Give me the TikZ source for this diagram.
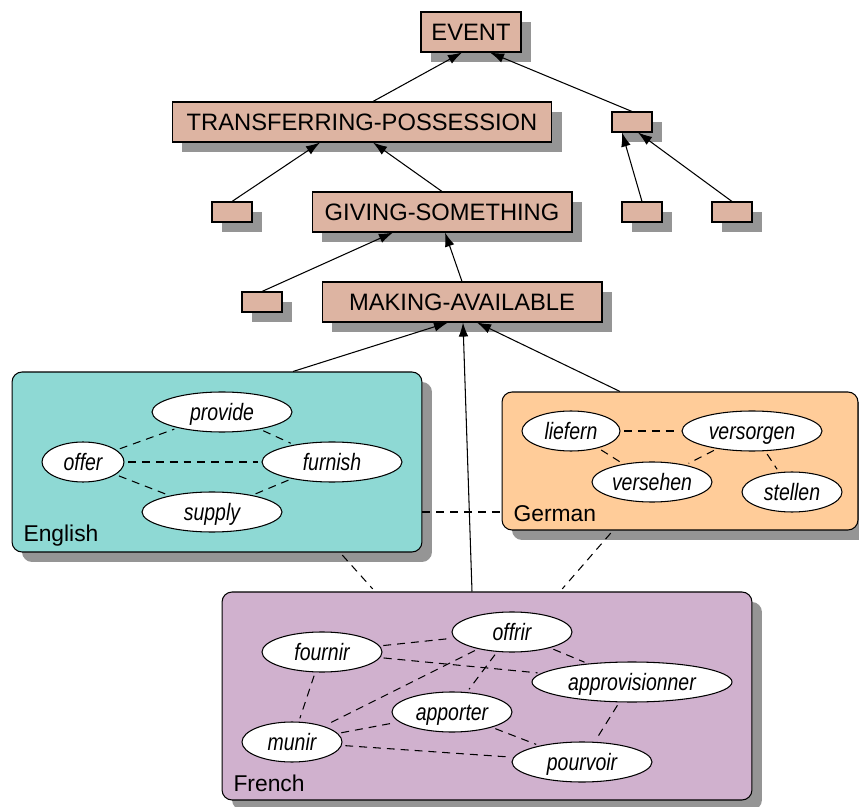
\documentclass[tikz,border=0pt]{standalone}
\usepackage{fontspec}
\setmainfont{Liberation Sans}
\newfontfamily\narrowsans[FakeStretch=0.82]{Liberation Sans}
\usetikzlibrary{arrows.meta,shapes.geometric,shadows}
\definecolor{conceptfill}{HTML}{DDB4A2}
\definecolor{englishfill}{HTML}{8ED9D4}
\definecolor{germanfill}{HTML}{FFCC99}
\definecolor{frenchfill}{HTML}{D0B1CE}
\definecolor{shadowgray}{HTML}{959595}

\begin{document}
\begin{tikzpicture}[x=0.02cm,y=-0.02cm,line width=0.6pt,
		dropshade/.style={drop shadow={shadow xshift=0.2cm,shadow yshift=-0.2cm,fill=shadowgray,opacity=1}},
		concept/.style={draw,fill=conceptfill,dropshade,inner sep=0,minimum height=0.8cm,font=\fontsize{13.5}{16}\selectfont},
		stub/.style={draw,fill=conceptfill,dropshade,inner sep=0,minimum width=0.8cm,minimum height=0.4cm},
		panel/.style={draw,rounded corners=0.2cm,dropshade,inner sep=0},
		lex/.style={draw,fill=white,ellipse,inner sep=0,minimum height=0.8cm,text height=11pt,text depth=1.4pt,font=\narrowsans\itshape\fontsize{13.5}{16}\selectfont},
		lang/.style={anchor=base west,inner sep=0,font=\fontsize{13}{15}\selectfont},
		isa/.style={-{Latex[length=8pt,width=5.5pt]}},
		link/.style={dash pattern=on 4.5pt off 3.4pt},
		syn/.style={link,shorten >=2pt,shorten <=2pt}]
	\useasboundingbox (0,0) rectangle (859,807);
	% concept hierarchy
	\node[concept,minimum width=2cm] (event) at (471,32) {EVENT};
	\node[concept,minimum width=7.6cm] (transfer) at (362,122) {TRANSFERRING-POSSESSION};
	\node[stub] (stubA) at (632,122) {};
	\node[stub] (stubB) at (232,212) {};
	\node[concept,minimum width=5.2cm] (giving) at (442,212) {GIVING-SOMETHING};
	\node[stub] (stubC) at (642,212) {};
	\node[stub] (stubD) at (732,212) {};
	\node[stub] (stubE) at (262,302) {};
	\node[concept,minimum width=5.6cm] (making) at (462,302) {MAKING-AVAILABLE};
	% language panels
	\node[panel,fill=englishfill,minimum width=8.2cm,minimum height=3.6cm] (eng) at (217,462) {};
	\node[panel,fill=germanfill,minimum width=7.12cm,minimum height=2.76cm] (ger) at (680,461) {};
	\node[panel,fill=frenchfill,minimum width=10.6cm,minimum height=4.16cm] (fre) at (487,696) {};
	\node[lang] (englab) at (23,541) {English};
	\node[lang] (gerlab) at (513,521) {German};
	\node[lang] (frelab) at (233,791) {French};
	% English
	\node[lex,minimum width=2.8cm] (provide) at (222,412) {provide};
	\node[lex,minimum width=1.64cm] (offer) at (83,462) {offer};
	\node[lex,minimum width=2.8cm] (furnish) at (332,462) {furnish};
	\node[lex,minimum width=2.8cm] (supply) at (212,512) {supply};
	% German
	\node[lex,minimum width=1.96cm] (liefern) at (571,431) {liefern};
	\node[lex,minimum width=2.8cm] (versorgen) at (752,431) {versorgen};
	\node[lex,minimum width=2.4cm] (versehen) at (652,482) {versehen};
	\node[lex,minimum width=2cm] (stellen) at (792,492) {stellen};
	% French
	\node[lex,minimum width=2.4cm] (offrir) at (512,632) {offrir};
	\node[lex,minimum width=2.4cm] (fournir) at (322,652) {fournir};
	\node[lex,minimum width=4cm] (approv) at (632,682) {approvisionner};
	\node[lex,minimum width=2.4cm] (apporter) at (452,712) {apporter};
	\node[lex,minimum width=2cm] (munir) at (292,742) {munir};
	\node[lex,minimum width=2.8cm] (pourvoir) at (582,762) {pourvoir};

	\draw[isa] (transfer.north -| 373,0) -- (event.south -| 462,0);
	\draw[isa] (stubA.north) -- (event.south -| 490,0);
	\draw[isa] (stubB.north) -- (transfer.south -| 320,0);
	\draw[isa] (giving.north) -- (transfer.south -| 373,0);
	\draw[isa] (stubE.north) -- (giving.south -| 393,0);
	\draw[isa] (making.north) -- (giving.south -| 445,0);
	\draw[isa] (stubC.north) -- (stubA.south -| 622,0);
	\draw[isa] (stubD.north) -- (stubA.south -| 638,0);
	\draw[isa] (eng.north -| 293,0) -- (making.south -| 448,0);
	\draw[isa] (fre.north -| 472,0) -- (making.south -| 463,0);
	\draw[isa] (ger.north -| 620,0) -- (making.south -| 477,0);

	\draw[link] (eng.east |- 0,512) -- (ger.west |- 0,512);
	\draw[syn] (eng.south -| 340,0) -- (fre.north -| 375,0);
	\draw[syn] (ger.south -| 613,0) -- (fre.north -| 560,0);

	\draw[syn] (offer) -- (provide);
	\draw[syn] (offer) -- (furnish);
	\draw[syn] (offer) -- (supply);
	\draw[syn] (provide) -- (furnish);
	\draw[syn] (supply) -- (furnish);
	\draw[syn] (liefern) -- (versorgen);
	\draw[syn] (liefern) -- (versehen);
	\draw[syn] (versorgen) -- (versehen);
	\draw[syn] (versorgen) -- (stellen);
	\draw[syn] (fournir) -- (offrir);
	\draw[syn] (fournir) -- (approv);
	\draw[syn] (fournir) -- (munir);
	\draw[syn] (offrir) -- (approv);
	\draw[syn] (offrir) -- (munir);
	\draw[syn] (offrir) -- (apporter);
	\draw[syn] (munir) -- (apporter);
	\draw[syn] (munir) -- (pourvoir);
	\draw[syn] (apporter) -- (pourvoir);
	\draw[syn] (approv) -- (pourvoir);
\end{tikzpicture}
\end{document}
